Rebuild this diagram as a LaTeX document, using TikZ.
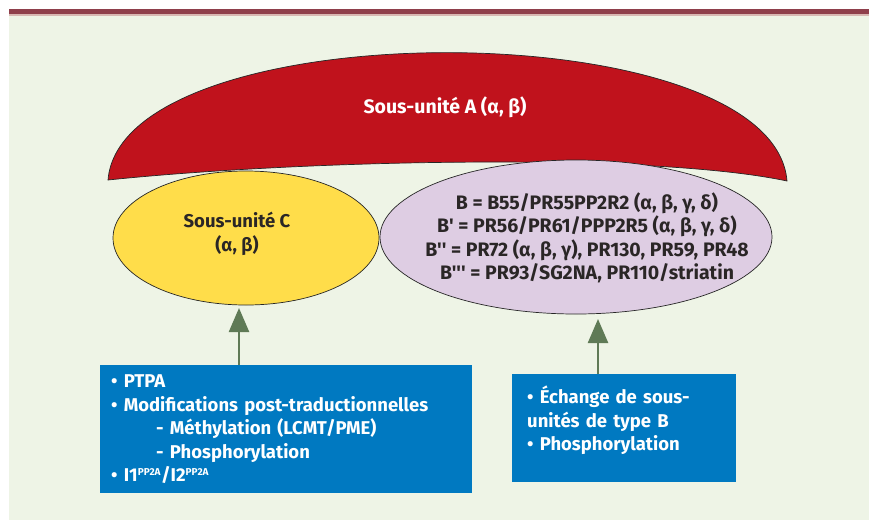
\documentclass[tikz,border=0pt]{standalone}
\usepackage{fontspec}
\setmainfont[Ligatures=TeXOff]{Fira Sans}
\usepackage{tikz}
\usetikzlibrary{shapes.geometric,arrows.meta}

\definecolor{barred}{HTML}{8F3F4B}
\definecolor{barline}{HTML}{D8B7B2}
\definecolor{bggreen}{HTML}{EEF4E6}
\definecolor{capred}{HTML}{C0121C}
\definecolor{subC}{HTML}{FFDD4A}
\definecolor{subB}{HTML}{DECDE3}
\definecolor{boxblue}{HTML}{0079C1}
\definecolor{arrgreen}{HTML}{5F7A56}
\definecolor{txtdark}{HTML}{2A2626}

\newcommand{\ppa}{\textsuperscript{\fontsize{10}{10}\selectfont PP2A}}

\tikzset{
  sub/.style={ellipse, draw=black!85, line width=0.7pt, inner sep=0pt},
  lbl/.style={font=\bfseries\fontsize{18.5}{23.5}\selectfont, align=center, text=txtdark},
  biglbl/.style={lbl, font=\bfseries\fontsize{19.5}{23.5}\selectfont},
  infobox/.style={fill=boxblue, text=white, inner xsep=11pt, align=left,
    font=\bfseries\fontsize{18.5}{23.5}\selectfont},
  uparrow/.style={draw=arrgreen, line width=2.4pt, -{Triangle[width=20pt,length=24pt]}}
}

\begin{document}
\begin{tikzpicture}[x=1pt, y=-1pt]
            \useasboundingbox (0,0) rectangle (869,520);
            \fill[bggreen] (9,14) rectangle (869,520);
            \fill[barred] (9,9) rectangle (869,14);
            \fill[barline] (9,14) rectangle (869,15.5);
            % sous-unite A
            \draw[fill=capred, draw=black!85, line width=0.7pt] (108,180)
                .. controls (122,10) and (773,10) .. (787,181)
                .. controls (650,152) and (300,160) .. cycle;
            \node[biglbl, text=white] (txtA) at (445,107) {Sous-unité A (α, β)};
            % sous-unites C et B
            \node[sub, fill=subC, minimum width=266pt, minimum height=134pt] (ellC) at (246,238) {};
            \node[lbl] (txtC) at (237,234) {Sous-unité C\\(α, β)};
            \node[sub, fill=subB, minimum width=392pt, minimum height=154pt] (ellB) at (576,237) {};
            \node[biglbl] (txtB) at (587,238) {B = B55/PR55PP2R2 (α, β, γ, δ)\\
                B' = PR56/PR61/PPP2R5 (α, β, γ, δ)\\
                B'' = PR72 (α, β, γ), PR130, PR59, PR48\\
                B''' = PR93/SG2NA, PR110/striatin};
            % regulations
            \node[infobox, anchor=north west, text width=350pt, minimum height=128pt, inner ysep=8pt] (boxC) at (100,365) {%
                • PTPA\\
                • Modifications post-traductionnelles\\
                \hspace*{45pt}- Méthylation (LCMT/PME)\\
                \hspace*{45pt}- Phosphorylation\\
                • I1\ppa/I2\ppa};
            \node[infobox, anchor=north west, text width=194pt, inner xsep=15pt, inner ysep=12pt, text depth=66pt] (boxB) at (512,374) {%
                • Échange de sous-\\
                unités de type B\\
                • Phosphorylation};
            \draw[uparrow] (boxC.north -| ellC.south) ++(-7,0) -- ++(0,-57);
            \draw[uparrow] (boxB.north -| ellB.south) ++(22,0) -- ++(0,-55);
        \end{tikzpicture}
\end{document}
